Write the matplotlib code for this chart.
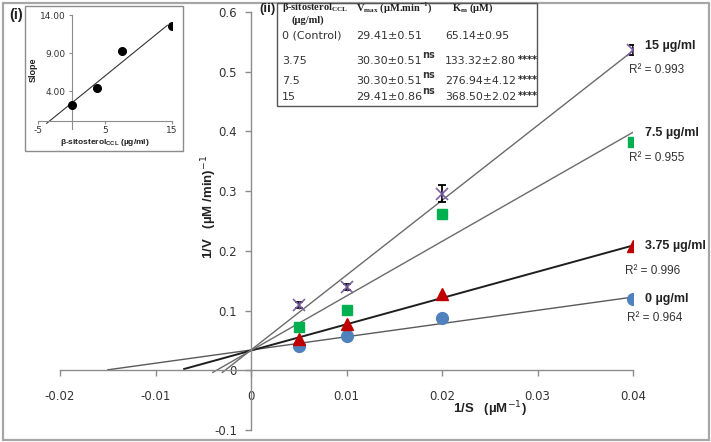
import numpy as np
import matplotlib
matplotlib.use("Agg")
import matplotlib.pyplot as plt
from matplotlib.patches import Rectangle

# ---------------- data ----------------
inv_s = [0.005, 0.01, 0.02, 0.04]
inv_v_0 = [0.040, 0.0575, 0.087, 0.119]
inv_v_375 = [0.053, 0.077, 0.127, 0.208]
inv_v_75 = [0.0725, 0.1015, 0.261, 0.383]
inv_v_15 = [0.109, 0.1395, 0.296, 0.536]
err_15 = [0.005, 0.005, 0.014, 0.008]

conc_labels = ["0 µg/ml", "3.75 µg/ml", "7.5 µg/ml", "15 µg/ml"]
r2_labels = ["R² = 0.964", "R² = 0.996", "R² = 0.955", "R² = 0.993"]

# kinetic constants (table)
conc_tab = ["0 (Control)", "3.75", "7.5", "15"]
vmax = [29.41, 30.30, 30.30, 29.41]
vmax_txt = ["29.41±0.51", "30.30±0.51", "30.30±0.51", "29.41±0.86"]
km = [65.14, 133.32, 276.94, 368.50]
km_txt = ["65.14±0.95", "133.32±2.80", "276.94±4.12", "368.50±2.02"]
vmax_sig = ["", "ns", "ns", "ns"]
km_sig = ["", "****", "****", "****"]
line_start = [-0.015, -0.007, -0.004, -0.003]
line_end = 0.04

# inset (secondary plot)
inset_conc = [0, 3.75, 7.5, 15]
inset_slope = [2.2, 4.4, 9.2, 12.6]
inset_line_x = [-3.7, 14.3]

x_ticks = [-0.02, -0.01, 0, 0.01, 0.02, 0.03, 0.04]
x_ticklabels = ["-0.02", "-0.01", "0", "0.01", "0.02", "0.03", "0.04"]
y_ticks = [-0.1, 0, 0.1, 0.2, 0.3, 0.4, 0.5, 0.6]
y_ticklabels = ["-0.1", "0", "0.1", "0.2", "0.3", "0.4", "0.5", "0.6"]

# ---------------- figure ----------------
W, H = 711, 442
fig = plt.figure(figsize=(W / 100, H / 100), dpi=100)
plt.rcParams['font.family'] = ['DejaVu Sans']

def fx(px):
    return px / W

def fy(py):
    return 1 - py / H

# overlay axes in pixel coordinates
ov = fig.add_axes([0, 0, 1, 1], zorder=10)
ov.set_xlim(0, W)
ov.set_ylim(H, 0)
ov.axis("off")
ov.patch.set_alpha(0)

# outer border
ov.add_patch(Rectangle((2.5, 2.5), W - 5, H - 5, fill=False, ec="#a6a6a6", lw=1.6))

# main axes
L, R, T, B = 60, 633, 12, 430
ax = fig.add_axes([fx(L), fy(B), (R - L) / W, (B - T) / H])
ax.set_xlim(-0.02, 0.04)
ax.set_ylim(-0.1, 0.6)
ax.patch.set_alpha(0)
for s in ["top", "right"]:
    ax.spines[s].set_visible(False)
ax.spines["left"].set_position(("data", 0))
ax.spines["bottom"].set_position(("data", 0))
for s in ["left", "bottom"]:
    ax.spines[s].set_color("#8c8c8c")
    ax.spines[s].set_linewidth(1.0)
ax.set_xticks(x_ticks)
ax.set_xticklabels(x_ticklabels)
ax.set_yticks(y_ticks)
ax.set_yticklabels(y_ticklabels)
ax.tick_params(axis="both", colors="#8c8c8c", labelcolor="#333333", labelsize=8.5,
               length=4, width=1.0)
ax.tick_params(axis="x", pad=10)
ax.tick_params(axis="y", pad=6)

line_cols = ["#5a5a5a", "#1e1e1e", "#6a6a6a", "#6a6a6a"]
line_w = [1.0, 1.4, 1.0, 1.0]
for i in range(4):
    xs = np.array([line_start[i], line_end])
    ys = 1.0 / vmax[i] + (km[i] / vmax[i]) * xs
    ax.plot(xs, ys, color=line_cols[i], lw=line_w[i], zorder=2)

ax.plot(inv_s, inv_v_0, "o", ms=8.5, color="#4F81BD", mec="#4F81BD", zorder=3)
ax.plot(inv_s, inv_v_375, "^", ms=8.5, color="#C00000", mec="#C00000", zorder=3)
ax.plot(inv_s, inv_v_75, "s", ms=7.5, color="#00B050", mec="#00B050", zorder=3)
ax.errorbar(inv_s, inv_v_15, yerr=err_15, fmt="none", ecolor="black", elinewidth=1.3,
            capsize=3, capthick=1.3, zorder=4)
ax.plot(inv_s, inv_v_15, "x", ms=8, mew=1.2, color="#8064A2", zorder=5)
ax.plot(inv_s, inv_v_15, "|", ms=6, mew=1.0, color="#6A4F8C", zorder=5)

# axis labels
ov.text(209, 207, "1/V   (µM /min)$^{-1}$", rotation=90, ha="center", va="center",
        fontsize=9.5, fontweight="bold", color="#222222", family="Liberation Sans")
ov.text(490, 409, "1/S   (µM$^{-1}$)", ha="center", va="center",
        fontsize=9.5, fontweight="bold", color="#222222", family="Liberation Sans")

# right-side labels
lab_pos = [(645, 299), (645, 246), (645, 133), (645, 46)]
r2_pos = [(627, 318), (625, 271), (629, 158), (629, 70)]
for i in range(4):
    ov.text(lab_pos[i][0], lab_pos[i][1], conc_labels[i], ha="left", va="center",
            fontsize=9, fontweight="bold", color="#222222", family="Liberation Sans")
    ov.text(r2_pos[i][0], r2_pos[i][1], r2_labels[i], ha="left", va="center",
            fontsize=8.5, color="#333333", family="Liberation Sans")

# ---------------- table (ii) ----------------
serif = "Liberation Serif"
ov.text(268, 9, "(ii)", ha="center", va="center", fontsize=9.5, fontweight="bold",
        color="#222222", family="Liberation Sans")
ov.add_patch(Rectangle((277, 2.5), 260, 103, fill=False, ec="#555555", lw=1.0))
ov.text(282, 8, r"β-sitosterol$_{\mathregular{CCL}}$", ha="left", va="center", fontsize=7.5,
        fontweight="bold", family=serif, color="#222222")
ov.text(292, 20, "(µg/ml)", ha="left", va="center", fontsize=7.5, fontweight="bold",
        family=serif, color="#222222")
ov.text(356, 8, r"V$_{\mathregular{max}}$ (µM.min$^{\mathregular{-1}}$)", ha="left", va="center",
        fontsize=7.5, fontweight="bold", family=serif, color="#222222")
ov.text(452, 8, r"K$_{\mathregular{m}}$ (µM)", ha="left", va="center", fontsize=7.5,
        fontweight="bold", family=serif, color="#222222")
row_y = [36, 61, 81, 97]
for i in range(4):
    ov.text(282, row_y[i], conc_tab[i], ha="left", va="center", fontsize=8, color="#333333")
    ov.text(356, row_y[i], vmax_txt[i], ha="left", va="center", fontsize=8, color="#333333")
    if vmax_sig[i]:
        ov.text(422, row_y[i] - 6, vmax_sig[i], ha="left", va="center", fontsize=7,
                fontweight="bold", color="#333333")
    ov.text(445, row_y[i], km_txt[i], ha="left", va="center", fontsize=7.8, color="#333333")
    if km_sig[i]:
        ov.text(518, row_y[i] - 1, km_sig[i], ha="left", va="center", fontsize=7,
                fontweight="bold", color="#222222")

# ---------------- inset (i) ----------------
ov.text(16, 15, "(i)", ha="center", va="center", fontsize=10.5, fontweight="bold",
        color="#222222", family="Liberation Sans")
ov.add_patch(Rectangle((25, 6), 158, 145, fill=False, ec="#8c8c8c", lw=1.0))
iL, iR, iT, iB = 38, 172, 15, 129
ia = fig.add_axes([fx(iL), fy(iB), (iR - iL) / W, (iB - iT) / H], zorder=11)
ia.set_xlim(-5, 15)
ia.set_ylim(-1, 14)
ia.patch.set_alpha(0)
for s in ["top", "right"]:
    ia.spines[s].set_visible(False)
ia.spines["left"].set_position(("data", 0))
ia.spines["bottom"].set_position(("data", 0))
for s in ["left", "bottom"]:
    ia.spines[s].set_color("#8c8c8c")
    ia.spines[s].set_linewidth(0.8)
ia.set_xticks([-5, 5, 15])
ia.set_xticklabels(["-5", "5", "15"])
ia.set_yticks([4, 9, 14])
ia.set_yticklabels(["4.00", "9.00", "14.00"])
ia.tick_params(axis="both", colors="#8c8c8c", labelcolor="#333333", labelsize=6.5,
               length=2.5, width=0.8)
ia.tick_params(axis="x", pad=0.5)
ia.tick_params(axis="y", pad=2)
coef = np.polyfit(inset_conc, inset_slope, 1)
lx = np.array(inset_line_x)
ia.plot(lx, np.polyval(coef, lx), color="#333333", lw=0.8, zorder=2)
ia.plot(inset_conc, inset_slope, "o", ms=5.5, color="black", zorder=3)
ov.text(105, 142, r"β-sitosterol$_{\mathregular{CCL}}$ (µg/ml)", ha="center", va="center",
        fontsize=6, fontweight="bold", color="#222222", family="Liberation Sans")
ov.text(33, 70, "Slope", rotation=90, ha="center", va="center", fontsize=6.5,
        fontweight="bold", color="#222222", family="Liberation Sans")

fig.savefig("out.png", dpi=100)
